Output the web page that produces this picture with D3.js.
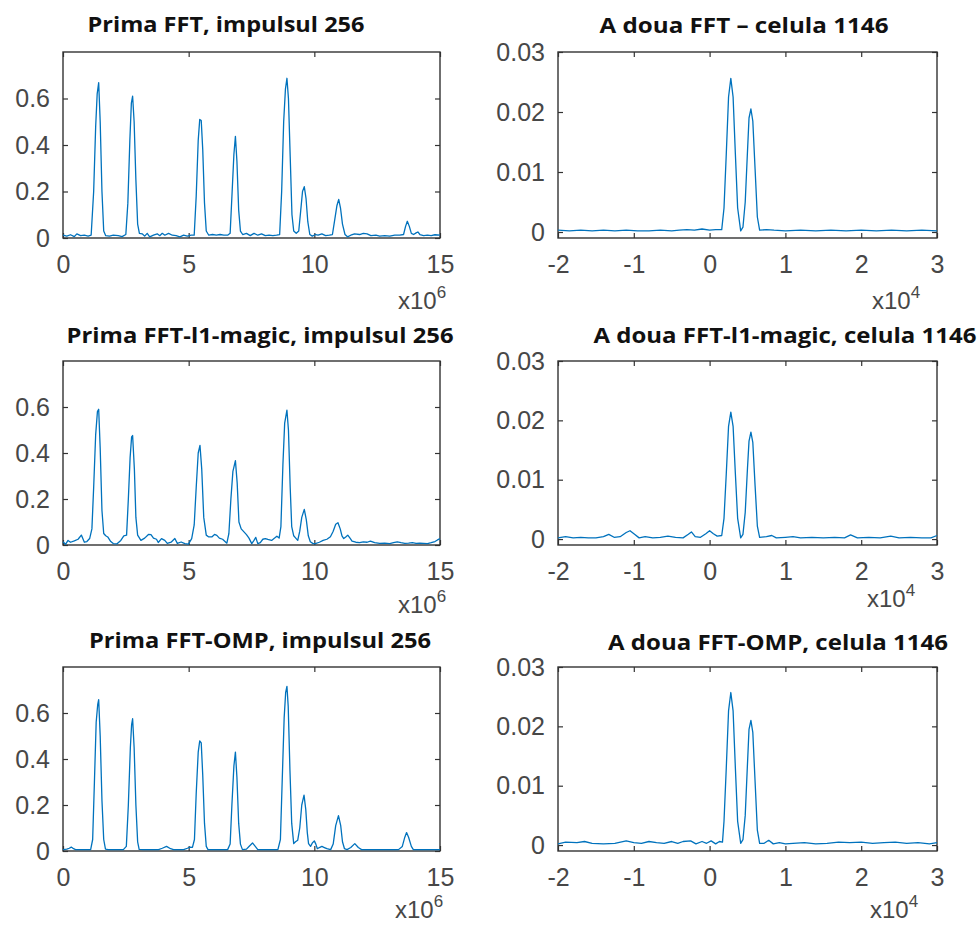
<!DOCTYPE html>
<html>
<head>
<meta charset="utf-8">
<script src="https://cdn.jsdelivr.net/npm/d3@7"></script>
<style>
  body { margin: 0; background: #fff; }
  .tick text { font-family: "Liberation Sans", Arial, sans-serif; font-size: 25px; fill: #474747; }
  .title { font-family: "Open Sans", Lato, sans-serif; font-weight: 700; font-size: 21px; fill: #111; }
  .expo { font-family: "Liberation Sans", Arial, sans-serif; font-size: 24px; fill: #474747; }
</style>
</head>
<body>
<svg id="chart" width="980" height="925"></svg>
<script>
// x in units of 1e6 (left column) and 1e4 (right column)
var primaFFT = [[0,0.012],[0.15,0.008],[0.3,0.014],[0.45,0.006],[0.55,0.018],[0.7,0.01],[0.85,0.012],[1.0,0.008],[1.12,0.012],[1.22,0.2],[1.3,0.48],[1.36,0.62],[1.42,0.668],[1.48,0.5],[1.55,0.2],[1.62,0.03],[1.7,0.01],[1.85,0.008],[2.0,0.012],[2.2,0.01],[2.35,0.006],[2.5,0.015],[2.58,0.15],[2.66,0.42],[2.72,0.58],[2.77,0.61],[2.83,0.5],[2.9,0.25],[2.97,0.06],[3.04,0.02],[3.15,0.018],[3.25,0.008],[3.35,0.02],[3.45,0.005],[3.6,0.012],[3.75,0.018],[3.85,0.01],[3.95,0.02],[4.05,0.012],[4.2,0.02],[4.35,0.012],[4.5,0.01],[4.65,0.005],[4.8,0.012],[4.95,0.008],[5.1,0.012],[5.22,0.012],[5.3,0.18],[5.38,0.42],[5.44,0.51],[5.5,0.505],[5.56,0.38],[5.63,0.15],[5.7,0.03],[5.8,0.012],[5.95,0.015],[6.1,0.012],[6.25,0.015],[6.4,0.012],[6.55,0.012],[6.65,0.02],[6.73,0.2],[6.8,0.36],[6.86,0.437],[6.92,0.33],[6.99,0.12],[7.06,0.03],[7.15,0.015],[7.3,0.02],[7.45,0.01],[7.6,0.02],[7.75,0.012],[7.9,0.018],[8.05,0.01],[8.2,0.012],[8.35,0.01],[8.5,0.012],[8.62,0.015],[8.7,0.2],[8.78,0.5],[8.85,0.64],[8.91,0.687],[8.97,0.6],[9.04,0.35],[9.11,0.1],[9.18,0.03],[9.28,0.02],[9.38,0.03],[9.46,0.12],[9.53,0.2],[9.6,0.221],[9.67,0.17],[9.74,0.07],[9.82,0.015],[9.92,0.008],[10.05,0.015],[10.15,0.012],[10.3,0.018],[10.45,0.01],[10.6,0.012],[10.72,0.015],[10.8,0.07],[10.9,0.14],[10.97,0.166],[11.04,0.13],[11.12,0.06],[11.22,0.015],[11.32,0.005],[11.45,0.012],[11.6,0.018],[11.8,0.015],[11.95,0.02],[12.1,0.018],[12.25,0.01],[12.45,0.012],[12.6,0.008],[12.8,0.01],[13.0,0.008],[13.2,0.012],[13.4,0.012],[13.55,0.015],[13.63,0.05],[13.7,0.072],[13.78,0.05],[13.86,0.02],[13.95,0.015],[14.05,0.022],[14.12,0.026],[14.2,0.015],[14.35,0.01],[14.5,0.012],[14.65,0.01],[14.8,0.014],[15.0,0.012]];

var primaL1 = [[0,0.014],[0.1,0.003],[0.2,0.02],[0.3,0.012],[0.45,0.018],[0.6,0.025],[0.73,0.043],[0.85,0.012],[0.95,0.015],[1.06,0.028],[1.15,0.07],[1.22,0.25],[1.3,0.48],[1.37,0.58],[1.42,0.59],[1.48,0.42],[1.55,0.15],[1.62,0.05],[1.7,0.04],[1.78,0.035],[1.9,0.015],[2.0,0.006],[2.15,0.005],[2.3,0.02],[2.42,0.04],[2.53,0.043],[2.6,0.2],[2.67,0.38],[2.73,0.47],[2.77,0.476],[2.84,0.33],[2.9,0.12],[2.97,0.043],[3.1,0.02],[3.25,0.03],[3.4,0.046],[3.5,0.045],[3.6,0.03],[3.72,0.025],[3.79,0.011],[3.92,0.028],[4.05,0.02],[4.15,0.007],[4.3,0.012],[4.45,0.028],[4.55,0.007],[4.7,0.013],[4.85,0.006],[4.99,0.004],[5.12,0.028],[5.22,0.087],[5.3,0.25],[5.38,0.4],[5.45,0.433],[5.52,0.33],[5.6,0.12],[5.7,0.043],[5.8,0.035],[5.92,0.035],[6.03,0.046],[6.12,0.042],[6.22,0.03],[6.35,0.025],[6.52,0.008],[6.6,0.05],[6.68,0.2],[6.76,0.32],[6.86,0.367],[6.93,0.27],[7.0,0.1],[7.09,0.07],[7.2,0.057],[7.3,0.045],[7.4,0.03],[7.51,0.006],[7.6,0.02],[7.67,0.033],[7.75,0.006],[7.85,0.01],[7.95,0.025],[8.05,0.028],[8.15,0.024],[8.3,0.02],[8.42,0.03],[8.51,0.038],[8.6,0.03],[8.67,0.08],[8.75,0.35],[8.82,0.53],[8.91,0.586],[8.97,0.5],[9.04,0.25],[9.1,0.08],[9.18,0.04],[9.26,0.03],[9.34,0.02],[9.42,0.06],[9.5,0.12],[9.6,0.155],[9.68,0.11],[9.76,0.04],[9.84,0.014],[9.95,0.006],[10.04,0.006],[10.2,0.012],[10.35,0.02],[10.5,0.025],[10.64,0.036],[10.75,0.06],[10.85,0.09],[10.94,0.097],[11.03,0.07],[11.1,0.04],[11.17,0.028],[11.25,0.035],[11.33,0.043],[11.42,0.03],[11.5,0.017],[11.65,0.012],[11.8,0.01],[11.95,0.014],[12.1,0.012],[12.23,0.017],[12.4,0.01],[12.6,0.007],[12.8,0.008],[13.0,0.006],[13.15,0.01],[13.3,0.014],[13.45,0.01],[13.6,0.007],[13.75,0.008],[13.9,0.01],[14.05,0.007],[14.2,0.008],[14.35,0.007],[14.5,0.006],[14.65,0.01],[14.8,0.015],[14.9,0.022],[15,0.028]];

var primaOMP = [[0,0.006],[0.15,0.008],[0.25,0.012],[0.33,0.017],[0.42,0.01],[0.5,0.006],[0.7,0.006],[0.9,0.006],[1.1,0.006],[1.18,0.05],[1.25,0.3],[1.32,0.56],[1.38,0.636],[1.42,0.658],[1.48,0.5],[1.55,0.22],[1.62,0.05],[1.69,0.008],[1.8,0.006],[2.0,0.006],[2.2,0.006],[2.4,0.006],[2.52,0.02],[2.6,0.2],[2.68,0.45],[2.73,0.55],[2.77,0.575],[2.83,0.45],[2.9,0.2],[2.97,0.04],[3.03,0.007],[3.2,0.006],[3.5,0.006],[3.8,0.006],[3.95,0.012],[4.12,0.02],[4.28,0.01],[4.4,0.006],[4.6,0.006],[4.8,0.006],[4.95,0.012],[5.05,0.017],[5.15,0.016],[5.23,0.05],[5.3,0.25],[5.38,0.43],[5.44,0.479],[5.5,0.47],[5.56,0.33],[5.63,0.12],[5.7,0.02],[5.77,0.006],[6.0,0.006],[6.3,0.006],[6.55,0.006],[6.65,0.03],[6.72,0.2],[6.8,0.37],[6.86,0.43],[6.92,0.32],[6.99,0.12],[7.06,0.03],[7.14,0.006],[7.3,0.008],[7.42,0.022],[7.54,0.035],[7.65,0.02],[7.75,0.006],[8.0,0.006],[8.3,0.006],[8.55,0.006],[8.65,0.05],[8.72,0.3],[8.8,0.58],[8.86,0.69],[8.91,0.716],[8.96,0.63],[9.03,0.35],[9.1,0.12],[9.18,0.032],[9.25,0.04],[9.34,0.047],[9.42,0.1],[9.5,0.2],[9.59,0.243],[9.66,0.18],[9.72,0.08],[9.77,0.032],[9.85,0.02],[9.92,0.035],[10.0,0.044],[10.06,0.03],[10.12,0.01],[10.2,0.015],[10.3,0.02],[10.4,0.015],[10.5,0.01],[10.65,0.006],[10.75,0.03],[10.85,0.11],[10.96,0.154],[11.05,0.11],[11.12,0.04],[11.2,0.01],[11.3,0.006],[11.45,0.015],[11.61,0.032],[11.75,0.015],[11.88,0.006],[12.2,0.006],[12.6,0.006],[13.0,0.006],[13.35,0.006],[13.5,0.02],[13.6,0.06],[13.67,0.08],[13.75,0.06],[13.86,0.02],[13.94,0.006],[14.3,0.006],[14.7,0.006],[15,0.006]];

var douaFFT = [[-2,0.0003],[-1.85,0.0002],[-1.7,0.0003],[-1.55,0.0002],[-1.4,0.0003],[-1.25,0.0002],[-1.1,0.0003],[-0.95,0.0002],[-0.8,0.0002],[-0.65,0.0003],[-0.5,0.0002],[-0.4,0.0003],[-0.3,0.0004],[-0.2,0.0003],[-0.1,0.0005],[0,0.0003],[0.08,0.0004],[0.16,0.0004],[0.19,0.004],[0.22,0.013],[0.25,0.0225],[0.28,0.0256],[0.31,0.0225],[0.34,0.013],[0.37,0.004],[0.41,0.0002],[0.44,0.0008],[0.47,0.005],[0.5,0.0135],[0.52,0.019],[0.545,0.0205],[0.57,0.0185],[0.6,0.0105],[0.63,0.0025],[0.66,0.0003],[0.75,0.0004],[0.85,0.0003],[1,0.0002],[1.2,0.0003],[1.4,0.0002],[1.6,0.0003],[1.8,0.0002],[2,0.0003],[2.2,0.0002],[2.4,0.0003],[2.6,0.0002],[2.8,0.0003],[3,0.0002]];

var douaL1 = [[-2,0.0002],[-1.9,0.0004],[-1.8,0.0002],[-1.7,0.0003],[-1.6,0.0002],[-1.5,0.0002],[-1.4,0.0004],[-1.33,0.0008],[-1.26,0.0003],[-1.18,0.0004],[-1.1,0.0011],[-1.05,0.0014],[-0.99,0.0008],[-0.93,0.0002],[-0.85,0.0004],[-0.75,0.0002],[-0.65,0.0003],[-0.55,0.0005],[-0.45,0.0003],[-0.35,0.0002],[-0.28,0.0008],[-0.24,0.0012],[-0.19,0.0004],[-0.12,0.0003],[-0.05,0.0009],[0,0.0014],[0.05,0.0009],[0.1,0.0005],[0.16,0.0006],[0.19,0.0035],[0.22,0.011],[0.25,0.019],[0.28,0.0214],[0.31,0.019],[0.34,0.011],[0.37,0.0035],[0.41,0.0002],[0.44,0.0008],[0.47,0.0045],[0.5,0.012],[0.52,0.0165],[0.545,0.018],[0.57,0.0163],[0.6,0.009],[0.63,0.0022],[0.66,0.0003],[0.75,0.0004],[0.82,0.0006],[0.88,0.0002],[1,0.0003],[1.1,0.0004],[1.2,0.0002],[1.35,0.0003],[1.5,0.0002],[1.65,0.0003],[1.78,0.0002],[1.86,0.0007],[1.95,0.0002],[2.1,0.0003],[2.25,0.0002],[2.39,0.0005],[2.5,0.0002],[2.65,0.0003],[2.8,0.0002],[2.92,0.0002],[3,0.0006]];

var douaOMP = [[-2,0.0002],[-1.9,0.0005],[-1.75,0.0004],[-1.65,0.0006],[-1.55,0.0003],[-1.4,0.0002],[-1.25,0.0003],[-1.1,0.0007],[-1.0,0.0004],[-0.9,0.0003],[-0.8,0.0006],[-0.7,0.0004],[-0.6,0.0003],[-0.5,0.0006],[-0.42,0.0003],[-0.35,0.0006],[-0.25,0.0007],[-0.18,0.0002],[-0.1,0.0006],[-0.04,0.0003],[0.02,0.0007],[0.08,0.0002],[0.13,0.0006],[0.17,0.0005],[0.19,0.004],[0.22,0.013],[0.25,0.0226],[0.28,0.0257],[0.31,0.0226],[0.34,0.013],[0.37,0.004],[0.41,0.0003],[0.44,0.0009],[0.47,0.005],[0.5,0.0138],[0.52,0.0195],[0.545,0.021],[0.57,0.019],[0.6,0.0107],[0.63,0.0025],[0.66,0.0003],[0.72,0.0003],[0.78,0.0008],[0.84,0.0002],[0.92,0.0004],[1.0,0.0002],[1.1,0.0003],[1.25,0.0004],[1.4,0.0002],[1.55,0.0003],[1.7,0.0005],[1.85,0.0004],[2.0,0.0005],[2.15,0.0003],[2.3,0.0004],[2.45,0.0005],[2.6,0.0003],[2.75,0.0004],[2.9,0.0002],[3,0.0004]];

var leftXTicks = [0, 5, 10, 15];
var leftYTicks = [0, 0.2, 0.4, 0.6];
var rightXTicks = [-2, -1, 0, 1, 2, 3];
var rightYTicks = [0, 0.01, 0.02, 0.03];

var titles = [
  "Prima FFT, impulsul 256", "A doua FFT \u2013 celula 1146",
  "Prima FFT-l1-magic, impulsul 256", "A doua FFT-l1-magic, celula 1146",
  "Prima FFT-OMP, impulsul 256", "A doua FFT-OMP, celula 1146"
];

var svg = d3.select("#chart");
var fmt = function(d) { return String(d); };

var panels = [
  { data: primaFFT, left: true,  x0: 63,  x1: 440, y0: 52,  y1: 238, title: titles[0], tx: 226, ty: 32,  tw: 277, ex: 398, ey: 309, exp: "6" },
  { data: douaFFT,  left: false, x0: 558, x1: 937, y0: 52,  y1: 238, title: titles[1], tx: 744, ty: 33,  tw: 289, ex: 872, ey: 309, exp: "4" },
  { data: primaL1,  left: true,  x0: 63,  x1: 440, y0: 361, y1: 545, title: titles[2], tx: 260, ty: 343, tw: 387, ex: 398, ey: 613, exp: "6" },
  { data: douaL1,   left: false, x0: 558, x1: 937, y0: 361, y1: 545, title: titles[3], tx: 785, ty: 343, tw: 383, ex: 867, ey: 607, exp: "4" },
  { data: primaOMP, left: true,  x0: 63,  x1: 440, y0: 667, y1: 851, title: titles[4], tx: 260, ty: 648, tw: 342, ex: 395, ey: 918, exp: "6" },
  { data: douaOMP,  left: false, x0: 558, x1: 937, y0: 667, y1: 851, title: titles[5], tx: 778, ty: 650, tw: 340, ex: 870, ey: 918, exp: "4" }
];

panels.forEach(function(p) {
  var x = d3.scaleLinear()
    .domain(p.left ? [0, 15] : [-2, 3])
    .range([p.x0, p.x1]);
  var y = d3.scaleLinear()
    .domain(p.left ? [0, 0.8] : [-0.001, 0.03])
    .range([p.y1, p.y0]);
  var xt = p.left ? leftXTicks : rightXTicks;
  var yt = p.left ? leftYTicks : rightYTicks;

  var g = svg.append("g");

  // inward ticks on all four sides, like a matlab box
  g.append("g").attr("transform", `translate(0, ${p.y1})`)
    .call(d3.axisBottom(x).tickValues(xt).tickFormat(fmt).tickSize(-5).tickPadding(17));
  g.append("g").attr("transform", `translate(0, ${p.y0})`)
    .call(d3.axisTop(x).tickValues(xt).tickFormat("").tickSize(-5));
  g.append("g").attr("transform", `translate(${p.x0}, 0)`)
    .call(d3.axisLeft(y).tickValues(yt).tickFormat(fmt).tickSize(-5).tickPadding(13));
  g.append("g").attr("transform", `translate(${p.x1}, 0)`)
    .call(d3.axisRight(y).tickValues(yt).tickFormat("").tickSize(-5));

  g.selectAll(".domain").remove();
  g.selectAll(".tick line").attr("stroke", "#333").attr("stroke-width", 1.2);

  g.append("rect")
    .attr("x", p.x0).attr("y", p.y0)
    .attr("width", p.x1 - p.x0).attr("height", p.y1 - p.y0)
    .attr("fill", "none").attr("stroke", "#333").attr("stroke-width", 1.4);

  var line = d3.line()
    .x(d => x(d[0]))
    .y(d => y(d[1]));

  g.append("path")
    .datum(p.data)
    .attr("fill", "none")
    .attr("stroke", "#0072BD")
    .attr("stroke-width", 1.3)
    .attr("stroke-linejoin", "round")
    .attr("d", line);

  g.append("text")
    .attr("class", "title")
    .attr("x", p.tx).attr("y", p.ty)
    .attr("text-anchor", "middle")
    .attr("textLength", p.tw)
    .attr("lengthAdjust", "spacingAndGlyphs")
    .text(p.title);

  var e = g.append("text").attr("class", "expo").attr("x", p.ex).attr("y", p.ey);
  e.append("tspan").text("x10");
  e.append("tspan").attr("dy", -11).attr("font-size", 17).text(p.exp);
});
</script>
</body>
</html>
